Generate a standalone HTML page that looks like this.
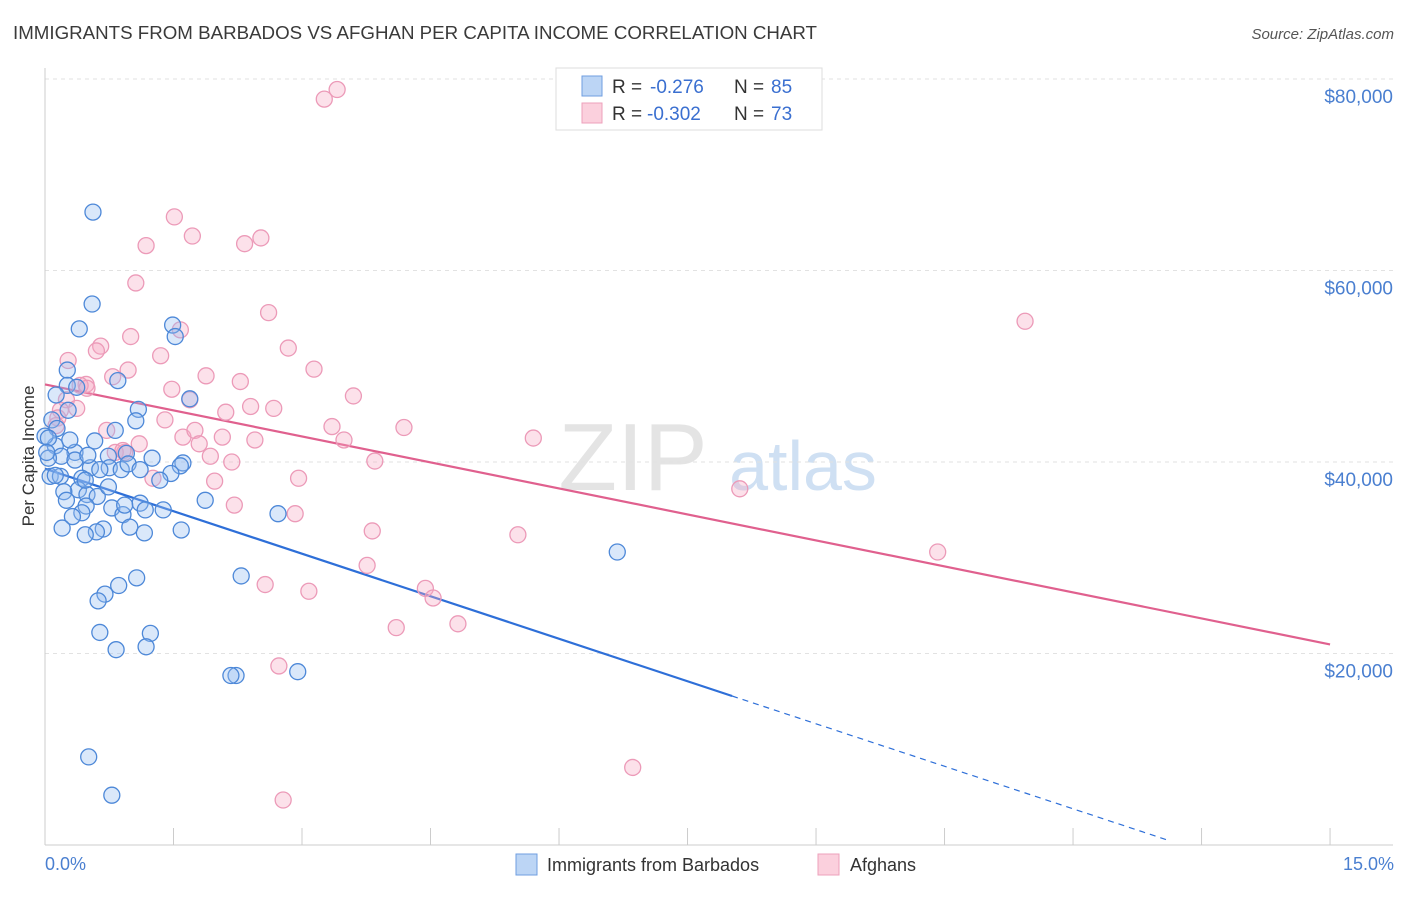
<!DOCTYPE html>
<html><head><meta charset="utf-8"><style>
body{margin:0;background:#fff;font-family:"Liberation Sans",sans-serif;}
svg text{font-family:"Liberation Sans",sans-serif;}
</style></head><body>
<svg id="chart" width="1406" height="892" xmlns="http://www.w3.org/2000/svg">
<text x="13" y="39" font-size="18" fill="#3a3a3a" textLength="804" lengthAdjust="spacingAndGlyphs">IMMIGRANTS FROM BARBADOS VS AFGHAN PER CAPITA INCOME CORRELATION CHART</text>
<text x="1394" y="39" font-size="15" fill="#555" text-anchor="end" font-style="italic">Source: ZipAtlas.com</text>
<g>
<text x="633" y="490" font-size="96" fill="#e4e4e4" font-family="Liberation Serif" text-anchor="middle">ZIP</text>
<text x="803" y="490" font-size="70" fill="#cfe0f3" text-anchor="middle">atlas</text>
</g>
<g id="grid"></g><g id="axes"></g><g id="trends"></g><g id="pts"></g>
<text transform="translate(34,456) rotate(-90)" font-size="17" fill="#333" text-anchor="middle">Per Capita Income</text>
<text x="45" y="870" font-size="18" fill="#4a7fd0">0.0%</text>
<text x="1394" y="870" font-size="18" fill="#4a7fd0" text-anchor="end">15.0%</text>
<g>
<rect x="556" y="68" width="266" height="62" fill="#fff" stroke="#ddd"/>
<rect x="582" y="76" width="20" height="20" fill="#bcd5f5" stroke="#6f9ee0"/>
<rect x="582" y="103" width="20" height="20" fill="#fbd0dd" stroke="#eea0bb"/>
<text x="612" y="93" font-size="19" fill="#333">R =</text>
<text x="650" y="93" font-size="19" fill="#3a6fd0">-0.276</text>
<text x="734" y="93" font-size="19" fill="#333">N =</text>
<text x="771" y="93" font-size="19" fill="#3a6fd0">85</text>
<text x="612" y="120" font-size="19" fill="#333">R =</text>
<text x="647" y="120" font-size="19" fill="#3a6fd0">-0.302</text>
<text x="734" y="120" font-size="19" fill="#333">N =</text>
<text x="771" y="120" font-size="19" fill="#3a6fd0">73</text>
</g>
<g>
<rect x="516" y="854" width="21" height="21" fill="#bcd5f5" stroke="#6f9ee0"/>
<text x="547" y="871" font-size="18" fill="#333">Immigrants from Barbados</text>
<rect x="818" y="854" width="21" height="21" fill="#fbd0dd" stroke="#eea0bb"/>
<text x="850" y="871" font-size="18" fill="#333">Afghans</text>
</g>
</svg>
<script>
const yTicks=[20000,40000,60000,80000];
const yTickLabels=["$20,000","$40,000","$60,000","$80,000"];
const xTicks=[0,1.5,3,4.5,6,7.5,9,10.5,12,13.5,15];
const blueX=[0.56,0.55,0.40,1.49,1.52,0.26,0.85,0.26,0.37,1.09,1.06,1.69,0.08,0.14,0.58,0.12,0.35,0.19,0.74,0.95,1.25,1.61,1.58,1.47,0.53,0.75,0.89,0.97,0.04,0.06,0.18,0.43,0.39,0.22,0.49,0.61,0.74,1.87,0.78,1.11,1.17,1.38,0.48,0.43,0.32,0.91,0.99,0.68,0.20,0.60,0.47,1.16,1.59,2.72,6.68,1.07,0.86,2.29,0.70,0.62,0.64,1.23,1.18,0.83,2.23,2.17,2.95,0.51,0.78,0.27,0.0,0.04,0.02,0.12,0.29,0.47,0.25,0.93,0.64,1.11,1.34,0.35,0.82,0.13,0.50];
const blueY=[66.1,56.5,53.9,54.3,53.1,49.6,48.5,48.0,47.8,45.5,44.3,46.6,44.4,43.5,42.2,41.7,41.0,40.6,40.6,40.9,40.4,39.9,39.6,38.8,39.4,39.4,39.2,39.8,40.4,38.5,38.5,38.3,37.1,36.9,36.6,36.4,37.4,36.0,35.2,35.7,35.0,35.0,35.4,34.7,34.3,34.5,33.2,33.0,33.1,32.7,32.4,32.6,32.9,34.6,30.6,27.9,27.1,28.1,26.2,25.5,22.2,22.1,20.7,20.4,17.7,17.7,18.1,9.2,5.2,45.4,42.7,42.5,41.0,38.6,42.3,38.1,36.0,35.5,39.2,39.2,38.1,40.2,43.3,47.0,40.7];
const pinkX=[3.41,3.26,1.51,1.72,1.18,2.33,2.52,1.06,2.61,1.58,1.00,0.65,0.60,2.84,0.27,1.35,0.97,3.14,0.79,0.48,1.88,2.28,1.48,3.60,1.69,0.41,0.25,0.18,0.37,0.15,0.13,2.40,2.67,2.11,1.40,0.72,3.35,4.19,5.70,1.61,1.75,3.49,2.45,1.10,2.07,1.80,0.82,0.93,1.93,2.18,3.85,1.26,1.98,2.96,8.11,2.21,2.92,3.82,5.52,11.44,10.42,3.76,2.57,3.08,4.44,4.53,4.10,4.82,2.73,6.86,2.78,0.49,0.91];
const pinkY=[78.9,77.9,65.6,63.6,62.6,62.8,63.4,58.7,55.6,53.8,53.1,52.1,51.6,51.9,50.6,51.1,49.6,49.7,48.9,48.1,49.0,48.4,47.6,46.9,46.5,48.0,46.5,45.4,45.6,44.6,43.8,45.8,45.6,45.2,44.4,43.3,43.7,43.6,42.5,42.6,43.3,42.3,42.3,41.9,42.6,41.9,41.0,41.0,40.6,40.0,40.1,38.3,38.0,38.3,37.2,35.5,34.6,32.8,32.4,54.7,30.6,29.2,27.2,26.5,26.8,25.8,22.7,23.1,18.7,8.1,4.7,47.7,41.2];
const blueTrend=[39.3,-2.96];
const pinkTrend=[48.1,-1.81];
const NS="http://www.w3.org/2000/svg";
const X=v=>45+v*85.67, Y=v=>845-v/20000*191.5;
function mk(tag,attrs,parent){const e=document.createElementNS(NS,tag);for(const k in attrs)e.setAttribute(k,attrs[k]);document.getElementById(parent).appendChild(e);return e;}
yTicks.forEach((t,i)=>{
 const l=mk('line',{x1:45,x2:1393,y1:Y(t),y2:Y(t),stroke:'#e2e2e2','stroke-dasharray':'4,4'},'grid');
 
 
 const tx=mk('text',{x:1393,y:Y(t)+24,'font-size':19,fill:'#4a7fd0','text-anchor':'end'},'grid');tx.textContent=yTickLabels[i];
 
 
});
const xa=mk('line',{x1:45,x2:1393,y1:845,y2:845,stroke:'#ccc'},'axes');


const ya=mk('line',{x1:45,x2:45,y1:68,y2:845,stroke:'#ccc'},'axes');


xTicks.forEach(t=>{const l=mk('line',{x1:X(t),x2:X(t),y1:828,y2:845,stroke:'#ccc'},'axes');
 
 });
function trend(tr,x0,x1,col,dash,name){const l=mk('line',{x1:X(x0),y1:Y((tr[0]+tr[1]*x0)*1000),x2:X(x1),y2:Y((tr[0]+tr[1]*x1)*1000),stroke:col,'stroke-width':dash?1.2:2.2},'trends');if(dash)l.setAttribute('stroke-dasharray','6,5');
 
 }
trend(blueTrend,0,8.02,'#2e6fd8',false,'barbados-trend-line');
trend(blueTrend,8.02,13.13,'#2e6fd8',true,'barbados-trend-extension');
trend(pinkTrend,0,15,'#e0608e',false,'afghan-trend-line');
function pts(xs,ys,fill,stroke,name){xs.forEach((x,i)=>{const c=mk('circle',{cx:X(x),cy:Y(ys[i]*1000),r:8,fill:fill,stroke:stroke,'stroke-width':1.3},'pts');
 
 });}
pts(pinkX,pinkY,'rgba(246,170,196,0.35)','#ec9ab8','afghan-point');
pts(blueX,blueY,'rgba(150,190,240,0.35)','#4d88d8','barbados-point');
</script>
</body></html>
